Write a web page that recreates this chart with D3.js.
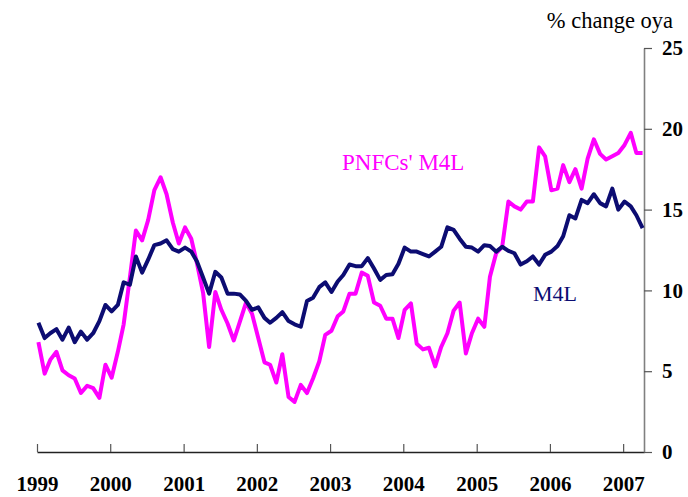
<!DOCTYPE html>
<html>
<head>
<meta charset="utf-8">
<script src="https://cdn.jsdelivr.net/npm/d3@7"></script>
<style>
  body { margin: 0; background: #fff; }
  svg { display: block; font-family: "Liberation Serif", "Times New Roman", serif; }
</style>
</head>
<body>
<script>
// monthly % change oya, Jan 1999 .. Apr 2007
var m4l = [
  8.0, 7.05, 7.35, 7.6, 6.95, 7.7, 6.8, 7.45, 6.95, 7.35, 8.1, 9.1,
  8.7, 9.1, 10.5, 10.35, 12.1, 11.1, 11.9, 12.8, 12.9, 13.1, 12.55, 12.4,
  12.65, 12.4, 11.8, 10.8, 9.8, 11.15, 10.8, 9.8, 9.8, 9.75, 9.35, 8.8,
  8.95, 8.3, 8.0, 8.3, 8.65, 8.1, 7.9, 7.75, 9.35, 9.55, 10.2, 10.5,
  9.9, 10.55, 10.95, 11.6, 11.5, 11.5, 12.0, 11.35, 10.65, 10.95, 11.0, 11.65,
  12.65, 12.4, 12.4, 12.25, 12.1, 12.4, 12.7, 13.9, 13.75, 13.2, 12.7, 12.65,
  12.4, 12.8, 12.75, 12.4, 12.7, 12.45, 12.3, 11.6, 11.8, 12.1, 11.6, 12.2,
  12.4, 12.75, 13.35, 14.65, 14.45, 15.6, 15.4, 15.95, 15.4, 15.2, 16.3, 15.0,
  15.5, 15.2, 14.65, 13.85
];

var pnfc = [
  6.8, 4.85, 5.7, 6.2, 5.05, 4.75, 4.55, 3.65, 4.1, 3.95, 3.35, 5.4,
  4.6, 6.2, 7.9, 10.8, 13.7, 13.1, 14.35, 16.2, 17.0, 15.95, 14.2, 12.9,
  13.9, 13.2, 11.7, 9.85, 6.5, 9.9, 8.8, 7.95, 6.9, 8.05, 9.25, 8.55,
  7.05, 5.55, 5.4, 4.3, 6.05, 3.4, 3.1, 4.15, 3.65, 4.55, 5.6, 7.25,
  7.5, 8.4, 8.7, 9.8, 9.8, 11.1, 10.9, 9.25, 9.05, 8.25, 8.25, 7.05,
  8.8, 9.2, 6.7, 6.35, 6.45, 5.3, 6.5, 7.35, 8.75, 9.25, 6.1, 7.35,
  8.25, 7.75, 10.85, 12.3, 12.7, 15.5, 15.2, 15.0, 15.5, 15.5, 18.85, 18.3,
  16.2, 16.3, 17.75, 16.7, 17.5, 16.3, 18.15, 19.35, 18.45, 18.1, 18.3, 18.5,
  19.0, 19.75, 18.5, 18.5
];

var years = [1999, 2000, 2001, 2002, 2003, 2004, 2005, 2006, 2007];
var yTicks = [0, 5, 10, 15, 20, 25];

var width = 688, height = 497;

var svg = d3.select("body").append("svg")
    .attr("width", width)
    .attr("height", height);

var x = d3.scaleTime()
    .domain([new Date(1999, 0, 1), new Date(2007, 3, 15)])
    .range([37, 644]);

var y = d3.scaleLinear()
    .domain([0, 25])
    .range([452, 48]);

function dateOf(i) { return new Date(1999, i, 8); }

// x axis, ticks pointing up
var xAxis = svg.append("g")
    .attr("transform", "translate(0," + y(0) + ")")
    .call(d3.axisBottom(x)
      .tickValues(years.map(function(yr){ return new Date(yr, 0, 1); }))
      .tickSize(-8)
      .tickSizeOuter(0)
      .tickFormat(d3.timeFormat("%Y")));

xAxis.select(".domain").attr("stroke", "#222").attr("stroke-width", 1.3);
xAxis.selectAll(".tick line").attr("stroke", "#555").attr("stroke-width", 1.2);
xAxis.selectAll(".tick text")
    .attr("y", 39)
    .attr("dy", 0)
    .attr("fill", "#000")
    .style("font-family", "'Liberation Serif', 'Times New Roman', serif")
    .style("font-size", "21px")
    .style("font-weight", "bold");

// y axis on the right
var yAxis = svg.append("g")
    .attr("transform", "translate(644,0)")
    .call(d3.axisRight(y)
      .tickValues(yTicks)
      .tickSize(8)
      .tickSizeOuter(0)
      .tickPadding(10));

yAxis.select(".domain").attr("stroke", "#808080").attr("stroke-width", 1.6);
yAxis.selectAll(".tick line").attr("stroke", "#555").attr("stroke-width", 1.2);
yAxis.selectAll(".tick text")
    .attr("fill", "#000")
    .style("font-family", "'Liberation Serif', 'Times New Roman', serif")
    .style("font-size", "21px")
    .style("font-weight", "bold");

var line = d3.line()
    .x(function(d, i){ return x(dateOf(i)); })
    .y(function(d){ return y(d); });

svg.append("path")
    .datum(pnfc)
    .attr("fill", "none")
    .attr("stroke", "#ff00ff")
    .attr("stroke-width", 4)
    .attr("stroke-linejoin", "round")
    .attr("d", line);

svg.append("path")
    .datum(m4l)
    .attr("fill", "none")
    .attr("stroke", "#0c0c72")
    .attr("stroke-width", 4)
    .attr("stroke-linejoin", "round")
    .attr("d", line);

// labels
svg.append("text")
    .attr("x", 673)
    .attr("y", 28)
    .attr("text-anchor", "end")
    .style("font-size", "22.5px")
    .attr("fill", "#000")
    .text("% change oya");

svg.append("text")
    .attr("x", 342)
    .attr("y", 170)
    .style("font-size", "23px")
    .attr("fill", "#ff00ff")
    .text("PNFCs' M4L");

svg.append("text")
    .attr("x", 533)
    .attr("y", 301)
    .style("font-size", "22px")
    .attr("fill", "#0c0c72")
    .text("M4L");
</script>
</body>
</html>
